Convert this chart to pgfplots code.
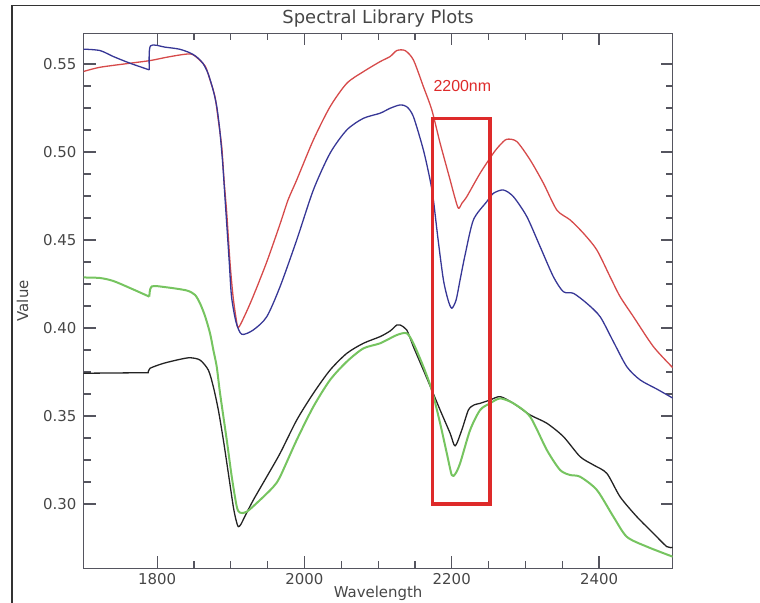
\documentclass[border=0pt]{standalone}
\usepackage{pgfplots}
\pgfplotsset{compat=1.18}
\usepackage{fontspec}
\setmainfont{DejaVu Sans}
\newfontfamily\arialfont{Liberation Sans}
\definecolor{cred}{RGB}{214,74,74}
\definecolor{cblue}{RGB}{55,55,150}
\definecolor{cblack}{RGB}{35,35,35}
\definecolor{cgreen}{RGB}{118,196,96}
\definecolor{boxred}{RGB}{222,42,42}
\definecolor{axgray}{RGB}{85,85,95}
\definecolor{txtgray}{RGB}{70,70,70}
\begin{document}
\begin{tikzpicture}
\useasboundingbox (0,0) rectangle (760bp,603bp);
\draw[line width=1.5bp, black!80] (12bp,0) -- (12bp,597.3bp) -- (760bp,597.3bp);
\begin{axis}[
  at={(83.5bp,34.7bp)}, anchor=south west,
  scale only axis, width=589.2bp, height=535bp,
  xmin=1700, xmax=2500, ymin=0.2635, ymax=0.5674,
  xtick={1800,2000,2200,2400}, minor x tick num=3,
  ytick={0.30,0.35,0.40,0.45,0.50,0.55}, minor y tick num=3,
  major tick length=12bp, minor tick length=7bp,
  axis line style={axgray, line width=1.2bp},
  every tick/.style={axgray, line width=1.2bp},
  /pgf/number format/assume math mode=true,
  tick label style={font=\fontsize{15}{18}\selectfont, text=txtgray},
  xticklabel style={anchor=north, inner sep=0pt, yshift=-5.3bp, /pgf/number format/1000 sep={}},
  yticklabel style={anchor=east, inner sep=0pt, xshift=-6.8bp, /pgf/number format/fixed, /pgf/number format/precision=2, /pgf/number format/fixed zerofill},
  xlabel={Wavelength}, ylabel={Value},
  xlabel style={font=\fontsize{15}{18}\selectfont, text=txtgray, at={(axis description cs:0.5,-0.0555)}, anchor=base, inner sep=0pt},
  ylabel style={font=\fontsize{15}{18}\selectfont, text=txtgray, at={(axis description cs:-0.1035,0.5)}, anchor=center, inner sep=0pt},
  title={Spectral Library Plots},
  title style={font=\fontsize{18}{21}\selectfont, text=txtgray, at={(axis description cs:0.5,1.0071)}, anchor=base, inner sep=0pt},
  clip=true,
  unbounded coords=jump,
  every axis plot/.append style={smooth, tension=0.45, line join=round},
]
% red
\addplot[cred, line width=1.3bp] coordinates {
(1700,0.5457) (1722.4,0.5481) (1763.2,0.5504) (1790.3,0.5519) (1813,0.5538) (1831,0.5551) (1844.6,0.5557) (1851.4,0.5545)
(1865,0.5489) (1871.8,0.5409) (1878.5,0.5314) (1883,0.5182) (1887.7,0.5030) (1890.8,0.4841) (1894.5,0.4652) (1899,0.4368)
(1903,0.4182) (1907.1,0.4057) (1910.2,0.4002) (1919.3,0.4074) (1930.6,0.4182) (1948.8,0.4375) (1966.9,0.4591) (1977.7,0.4727)
(1989.5,0.4841) (2012.1,0.5068) (2034.8,0.5257) (2057.5,0.5390) (2080,0.5456) (2102.7,0.5513) (2116.3,0.5542) (2125.4,0.5576)
(2136.6,0.5576) (2147.9,0.5523) (2161.5,0.5371) (2172.9,0.5239) (2184.2,0.5050) (2197.8,0.4841) (2203.2,0.4756) (2209,0.4680)
(2214,0.4710) (2220.4,0.4746) (2238.5,0.4879) (2256.5,0.4993) (2265.7,0.5040) (2274.7,0.5072) (2288.3,0.5059) (2306.4,0.4955)
(2324.5,0.4822) (2342.7,0.4670) (2360.7,0.4614) (2378.8,0.4538) (2397,0.4443) (2415,0.4291) (2428.6,0.4178) (2446.7,0.4064)
(2473.8,0.3894) (2500,0.3775)
};
% blue
\addplot[cblue, line width=1.3bp] coordinates {
(1700,0.5584) (1722.4,0.5576) (1740.5,0.5542) (1763.2,0.5504) (1789.4,0.5466) (1790,nan) (1789.4,0.5466) (1790.8,0.5602) (1811,0.5595) (1830,0.5584)
(1844,0.5564) (1853,0.5542) (1862,0.5504) (1869,0.5447) (1876,0.5352) (1881,0.5257) (1885,0.5125) (1889,0.4936)
(1892,0.4746) (1895,0.4557) (1898,0.4368) (1901,0.4178) (1907.1,0.4034) (1914.9,0.3964) (1930.6,0.3989) (1948.8,0.4064)
(1966.9,0.4235) (1989.5,0.4500) (2012.1,0.4784) (2034.8,0.4993) (2057.5,0.5125) (2080,0.5191) (2102.7,0.5220) (2116.3,0.5248)
(2129.8,0.5267) (2138.9,0.5257) (2147.9,0.5201) (2161.5,0.5011) (2170.6,0.4841) (2175.1,0.4727) (2181.5,0.4500) (2188.7,0.4273)
(2195,0.4159) (2200,0.4112) (2205.9,0.4159) (2211.3,0.4273) (2218.1,0.4415) (2229.4,0.4614) (2247.6,0.4718) (2256.5,0.4765)
(2270.1,0.4784) (2283.7,0.4746) (2301.9,0.4633) (2320,0.4462) (2338,0.4291) (2351.6,0.4206) (2365.2,0.4197) (2383.4,0.4140)
(2401.5,0.4064) (2419.5,0.3922) (2437.7,0.3780) (2455.8,0.3705) (2478.5,0.3653) (2500,0.3602)
};
% black
\addplot[cblack, line width=1.3bp] coordinates {
(1700,0.3743) (1781.2,0.3746) (1787.6,0.3747) (1790.3,0.3771) (1808.4,0.3799) (1831,0.3822) (1844.6,0.3831) (1858.2,0.3818)
(1869.5,0.3761) (1876.3,0.3666) (1883.1,0.3534) (1889.9,0.3364) (1896.7,0.3174) (1903.4,0.2985) (1907.1,0.2909) (1910.2,0.2871)
(1913.9,0.2886) (1919.3,0.2932) (1930.6,0.3023) (1948.8,0.3155) (1966.9,0.3288) (1989.5,0.3477) (2012.1,0.3629) (2034.8,0.3761)
(2057.5,0.3856) (2080,0.3913) (2102.7,0.3951) (2116.3,0.3983) (2125.4,0.4017) (2129.8,0.4017) (2138.9,0.3989) (2147.9,0.3894)
(2161.5,0.3761) (2172.9,0.3648) (2184.2,0.3534) (2197.8,0.3402) (2204.6,0.3330) (2213.6,0.3420) (2222.6,0.3534) (2230.3,0.3563)
(2238.5,0.3572) (2252,0.3591) (2265.7,0.3610) (2283.7,0.3572) (2306.4,0.3506) (2329.1,0.3459) (2351.6,0.3383) (2374.3,0.3269)
(2392.4,0.3222) (2410.6,0.3174) (2428.6,0.3041) (2451.3,0.2928) (2473.9,0.2833) (2492,0.2758) (2500,0.2754)
};
% green
\addplot[cgreen, line width=2bp] coordinates {
(1700,0.4287) (1722.4,0.4284) (1740.5,0.4267) (1763.2,0.4227) (1789.4,0.4178) (1790,nan) (1789.4,0.4178) (1792.6,0.4236) (1813,0.4231) (1840.2,0.4213)
(1851.4,0.4188) (1858.2,0.4140) (1865,0.4068) (1871.8,0.3970) (1876.3,0.3875) (1880.9,0.3780) (1885.4,0.3629) (1894.5,0.3364)
(1901.3,0.3155) (1908.1,0.2985) (1912.6,0.2951) (1921.6,0.2956) (1939.7,0.3023) (1957.8,0.3098) (1966.9,0.3155) (1989.5,0.3364)
(2012.1,0.3553) (2034.8,0.3705) (2057.5,0.3809) (2080,0.3884) (2102.7,0.3913) (2125.4,0.3960) (2138.9,0.3970) (2147.9,0.3913)
(2161.5,0.3780) (2172.9,0.3648) (2184.2,0.3459) (2193.3,0.3288) (2200,0.3165) (2204.6,0.3170) (2211.3,0.3231) (2224.9,0.3420)
(2238.5,0.3534) (2252,0.3572) (2265.7,0.3600) (2283.7,0.3572) (2306.4,0.3496) (2329.1,0.3307) (2347.2,0.3193) (2360.7,0.3165)
(2374.3,0.3155) (2397,0.3080) (2419.5,0.2928) (2437.7,0.2814) (2464.9,0.2758) (2500,0.2701)
};
% annotation box
\draw[boxred, line width=3.6bp] (axis cs:2174,0.30) rectangle (axis cs:2252,0.519);
\node[anchor=base west, inner sep=0pt, text=boxred, font=\arialfont\fontsize{16}{19}\selectfont] at (axis cs:2175,0.5344) {2200nm};
\end{axis}
\end{tikzpicture}
\end{document}
